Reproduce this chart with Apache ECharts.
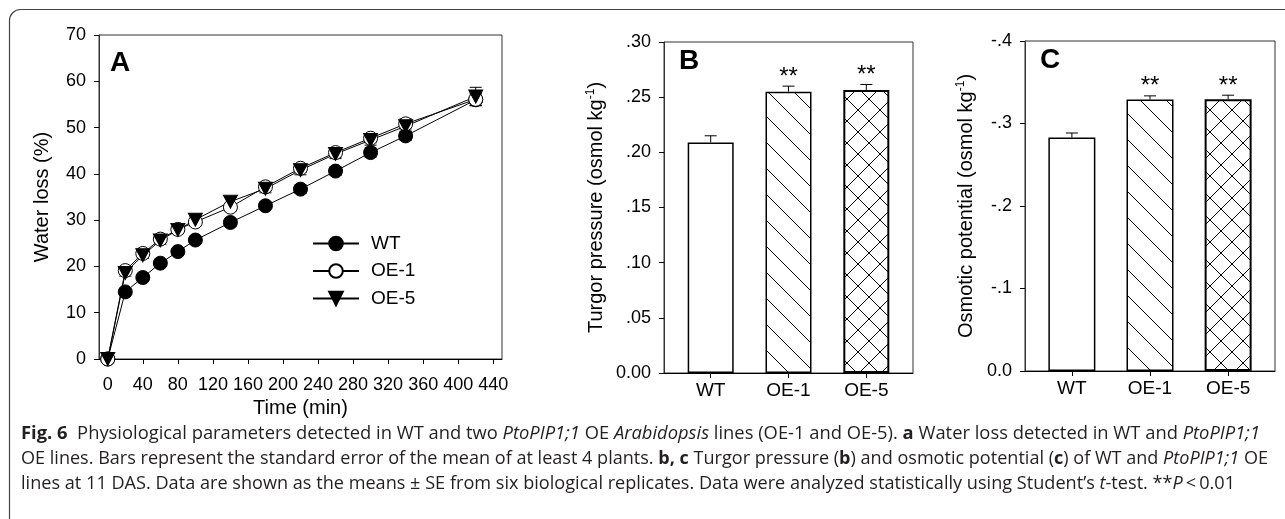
<!DOCTYPE html>
<html><head><meta charset="utf-8">
<script src="https://cdn.jsdelivr.net/npm/echarts@6/dist/echarts.min.js"></script>
<style>html,body{margin:0;padding:0;background:#fff}#c{width:1285px;height:519px}</style>
</head><body><div id="c"></div>
<script>
// ---------- data ----------
const times = [0, 20, 40, 60, 80, 100, 140, 180, 220, 260, 300, 340, 420];
const wtLoss  = [0, 14.5, 17.6, 20.7, 23.2, 25.7, 29.5, 33.1, 36.7, 40.6, 44.6, 48.2, 56.0];
const oe1Loss = [0, 19.1, 22.8, 25.9, 28.0, 29.6, 32.8, 37.2, 41.2, 44.6, 47.7, 50.8, 56.1];
const oe5Loss = [0, 18.6, 22.4, 25.6, 27.9, 30.1, 34.0, 36.8, 40.8, 44.3, 47.3, 50.3, 56.7];
const wtSE  = [0, 0.6, 0.6, 0.7, 0.7, 0.7, 0.8, 0.8, 0.9, 0.9, 1.0, 1.0, 1.2];
const oe1SE = [0, 0.7, 0.7, 0.7, 0.8, 0.8, 0.8, 0.9, 0.9, 1.0, 1.0, 1.1, 1.3];
const oe5SE = [0, 0.7, 0.7, 0.8, 0.8, 0.8, 0.9, 0.9, 1.0, 1.0, 1.1, 1.1, 2.0];
const xTicksA = [0, 40, 80, 120, 160, 200, 240, 280, 320, 360, 400, 440];
const lineNames = ['WT', 'OE-1', 'OE-5'];

const barCats = ['WT', 'OE-1', 'OE-5'];
const turgor   = [0.209, 0.255, 0.2565];
const turgorSE = [0.006, 0.005, 0.005];
const osmotic   = [-0.283, -0.329, -0.3295];
const osmoticSE = [0.0055, 0.0045, 0.0048];
const sigMarks = ['', '**', '**'];

// ---------- helpers ----------
const FF = '"Liberation Sans", Arial, sans-serif';
function hatch(size, back, fwd) {
  const c = document.createElement('canvas');
  c.width = c.height = size;
  const g = c.getContext('2d');
  g.fillStyle = '#fff'; g.fillRect(0, 0, size, size);
  g.strokeStyle = '#000'; g.lineWidth = 1;
  g.beginPath();
  for (const k of [-size, 0, size]) {
    if (back) { g.moveTo(k, 0); g.lineTo(k + size, size); }
    if (fwd) { g.moveTo(k + size, 0); g.lineTo(k, size); }
  }
  g.stroke();
  return c;
}
const patBack = { image: hatch(26, true, false), repeat: 'repeat' };
const patCross = { image: hatch(22, true, true), repeat: 'repeat' };
const barFills = ['#fff', patBack, patCross];

function errRender(capW, both) {
  return function (params, api) {
    const x = api.value(0), y = api.value(1), e = api.value(2);
    const pt = api.coord([x, y + e]);
    const pb = api.coord([x, both ? y - e : y]);
    const st = { stroke: '#000', lineWidth: 1 };
    const ch = [
      { type: 'line', shape: { x1: pt[0], y1: pt[1], x2: pb[0], y2: pb[1] }, style: st },
      { type: 'line', shape: { x1: pt[0] - capW / 2, y1: pt[1], x2: pt[0] + capW / 2, y2: pt[1] }, style: st }
    ];
    if (both) ch.push({ type: 'line', shape: { x1: pb[0] - capW / 2, y1: pb[1], x2: pb[0] + capW / 2, y2: pb[1] }, style: st });
    return { type: 'group', children: ch };
  };
}
function starRender(params, api) {
  const x = api.value(0), y = api.value(1), e = api.value(2);
  const p = api.coord([x, y + e]);
  return { type: 'text', x: p[0], y: p[1] - 9,
    style: { text: sigMarks[params.dataIndex], font: '24px ' + FF, fill: '#000', align: 'center', verticalAlign: 'middle' } };
}
const zip = (a, b) => a.map((v, i) => [v, b[i]]);
const zip3 = (a, b, c) => a.map((v, i) => [v, b[i], c[i]]);
const idx = [0, 1, 2];

// ---------- axes ----------
const axLine = (c) => ({ show: true, onZero: false, lineStyle: { color: c, width: 1 } });
const tick = (cv) => { const t = { show: true, inside: false, length: 5, lineStyle: { color: '#000' } }; if (cv) t.customValues = cv; return t; };
const lab = (size, margin, extra) => Object.assign({ fontSize: size, fontFamily: FF, color: '#000', margin: margin }, extra || {});
const supRich = { sup: { fontSize: 12, fontFamily: FF, color: '#000', verticalAlign: 'top', padding: [0, 0, 10, 0] } };

const option = {
  animation: false,
  backgroundColor: '#fff',
  grid: [
    { left: 99, top: 35, width: 403, height: 324, show: true, borderColor: '#333', borderWidth: 1, outerBoundsMode: 'none' },
    { left: 664, top: 42, width: 249, height: 331, show: true, borderColor: '#333', borderWidth: 1, outerBoundsMode: 'none' },
    { left: 1025, top: 41, width: 250, height: 330, show: true, borderColor: '#333', borderWidth: 1, outerBoundsMode: 'none' }
  ],
  xAxis: [
    { type: 'value', gridIndex: 0, min: -10, max: 450, splitLine: { show: false },
      axisLine: axLine('#000'), axisTick: tick(xTicksA),
      axisLabel: lab(18, 17, { customValues: xTicksA }),
      name: 'Time (min)', nameLocation: 'middle', nameGap: 39,
      nameTextStyle: { fontSize: 20, fontFamily: FF, color: '#000' } },
    { type: 'value', gridIndex: 1, min: -0.6, max: 2.6, splitLine: { show: false },
      axisLine: axLine('#000'), axisTick: tick(idx),
      axisLabel: lab(19, 8, { customValues: idx, formatter: v => barCats[Math.round(v)] }) },
    { type: 'value', gridIndex: 2, min: -0.6, max: 2.6, splitLine: { show: false },
      axisLine: axLine('#000'), axisTick: tick(idx),
      axisLabel: lab(19, 8, { customValues: idx, formatter: v => barCats[Math.round(v)] }) }
  ],
  yAxis: [
    { type: 'value', gridIndex: 0, min: 0, max: 70, interval: 10, splitLine: { show: false },
      axisLine: axLine('#333'), axisTick: tick(), axisLabel: lab(18, 13),
      name: 'Water loss (%)', nameLocation: 'middle', nameGap: 47,
      nameTextStyle: { fontSize: 20, fontFamily: FF, color: '#000' } },
    { type: 'value', gridIndex: 1, min: 0, max: 0.30, interval: 0.05, splitLine: { show: false },
      axisLine: axLine('#333'), axisTick: tick(),
      axisLabel: lab(18, 13, { formatter: v => v < 1e-9 ? '0.00' : '.' + v.toFixed(2).split('.')[1] }),
      name: 'Turgor pressure (osmol kg{sup|-1})', nameLocation: 'middle', nameGap: 57,
      nameTextStyle: { fontSize: 20, fontFamily: FF, color: '#000', rich: supRich } },
    { type: 'value', gridIndex: 2, min: -0.4, max: 0, interval: 0.1, inverse: true, splitLine: { show: false },
      axisLine: axLine('#333'), axisTick: tick(),
      axisLabel: lab(18, 13, { formatter: v => Math.abs(v) < 1e-9 ? '0.0' : '-.' + Math.round(Math.abs(v) * 10) }),
      name: 'Osmotic potential (osmol kg{sup|-1})', nameLocation: 'middle', nameGap: 48,
      nameTextStyle: { fontSize: 20, fontFamily: FF, color: '#000', rich: supRich } }
  ],
  legend: {
    data: lineNames, orient: 'vertical', left: 307, top: 229,
    itemWidth: 46, itemHeight: 17, itemGap: 8.5,
    textStyle: { fontSize: 19, fontFamily: FF, color: '#000', padding: [0, 0, 0, 7] }
  },
  series: [
    { type: 'custom', xAxisIndex: 0, yAxisIndex: 0, renderItem: errRender(12, true), data: zip3(times, wtLoss, wtSE), z: 1, encode: { x: 0, y: 1 } },
    { type: 'custom', xAxisIndex: 0, yAxisIndex: 0, renderItem: errRender(12, true), data: zip3(times, oe1Loss, oe1SE), z: 1, encode: { x: 0, y: 1 } },
    { type: 'custom', xAxisIndex: 0, yAxisIndex: 0, renderItem: errRender(12, true), data: zip3(times, oe5Loss, oe5SE), z: 1, encode: { x: 0, y: 1 } },
    { type: 'line', name: lineNames[0], xAxisIndex: 0, yAxisIndex: 0, data: zip(times, wtLoss),
      symbol: 'circle', symbolSize: 14, showSymbol: true, z: 3,
      itemStyle: { color: '#000', borderColor: '#000', borderWidth: 1 }, lineStyle: { color: '#000', width: 1 } },
    { type: 'line', name: lineNames[1], xAxisIndex: 0, yAxisIndex: 0, data: zip(times, oe1Loss),
      symbol: 'circle', symbolSize: 14, showSymbol: true, z: 3,
      itemStyle: { color: '#fff', borderColor: '#000', borderWidth: 1 }, lineStyle: { color: '#000', width: 1 } },
    { type: 'line', name: lineNames[2], xAxisIndex: 0, yAxisIndex: 0, data: zip(times, oe5Loss),
      symbol: 'triangle', symbolRotate: 180, symbolSize: [14, 13], showSymbol: true, z: 3,
      itemStyle: { color: '#000', borderColor: '#000', borderWidth: 1 }, lineStyle: { color: '#000', width: 1 } },

    { type: 'custom', xAxisIndex: 1, yAxisIndex: 1, renderItem: errRender(12, false), data: zip3(idx, turgor, turgorSE), z: 1, encode: { x: 0, y: 1 } },
    { type: 'bar', name: 'turgor', xAxisIndex: 1, yAxisIndex: 1, barWidth: 46, z: 2,
      data: idx.map(i => ({ value: [i, turgor[i]], itemStyle: { color: barFills[i], borderColor: '#000', borderWidth: i === 2 ? 2 : 1.5 } })) },
    { type: 'custom', xAxisIndex: 1, yAxisIndex: 1, renderItem: starRender, data: zip3(idx, turgor, turgorSE), z: 3, encode: { x: 0, y: 1 } },

    { type: 'custom', xAxisIndex: 2, yAxisIndex: 2, renderItem: errRender(12, false), data: zip3(idx, osmotic, osmoticSE.map(v => -v)), z: 1, encode: { x: 0, y: 1 } },
    { type: 'bar', name: 'osmotic', xAxisIndex: 2, yAxisIndex: 2, barWidth: 47, z: 2,
      data: idx.map(i => ({ value: [i, osmotic[i]], itemStyle: { color: barFills[i], borderColor: '#000', borderWidth: i === 2 ? 2 : 1.5 } })) },
    { type: 'custom', xAxisIndex: 2, yAxisIndex: 2, renderItem: starRender, data: zip3(idx, osmotic, osmoticSE.map(v => -v)), z: 3, encode: { x: 0, y: 1 } }
  ],
  graphic: []
};

// ---------- panel letters & frame ----------
const letters = [['A', 110, 63], ['B', 679, 61], ['C', 1040, 60]];
letters.forEach(([t, x, y]) => option.graphic.push({ type: 'text', x: x, y: y,
  style: { text: t, font: 'bold 28px ' + FF, fill: '#000', align: 'left', verticalAlign: 'middle' } }));
option.graphic.push({ type: 'rect', shape: { x: 9.5, y: 9.5, width: 1300, height: 530, r: [11, 0, 0, 0] },
  style: { fill: 'none', stroke: '#444', lineWidth: 1.2 }, silent: true });

// ---------- caption ----------
const capLines = [
  [['b', 'Fig. 6'], ['n', '  Physiological parameters detected in WT and two '], ['i', 'PtoPIP1;1'], ['n', ' OE '], ['i', 'Arabidopsis'],
   ['n', ' lines (OE-1 and OE-5). '], ['b', 'a'], ['n', ' Water loss detected in WT and '], ['i', 'PtoPIP1;1']],
  [['n', 'OE lines. Bars represent the standard error of the mean of at least 4 plants. '], ['b', 'b, c'], ['n', ' Turgor pressure ('],
   ['b', 'b'], ['n', ') and osmotic potential ('], ['b', 'c'], ['n', ') of WT and '], ['i', 'PtoPIP1;1'], ['n', ' OE']],
  [['n', 'lines at 11 DAS. Data are shown as the means \u00b1 SE from six biological replicates. Data were analyzed statistically using Student\u2019s '],
   ['i', 't'], ['n', '-test. **'], ['i', 'P'], ['n', '\u2009<\u20090.01']]
];
const CF = '"Open Sans", "Noto Sans", sans-serif';
const CS = 17.5;
const fontOf = { n: `${CS}px ${CF}`, b: `bold ${CS}px ${CF}`, i: `italic ${CS}px ${CF}` };
const mctx = document.createElement('canvas').getContext('2d');
function measure(line) { return line.reduce((s, [k, t]) => { mctx.font = fontOf[k]; return s + mctx.measureText(t).width; }, 0); }
const capX = 21;
const capEnds = [1260, 1268, 1235];
const capY = [434, 459, 484];
const scales = capLines.map((l, i) => (capEnds[i] - capX) / measure(l));
const rich = {
  n: { fontSize: CS, fontFamily: CF, color: '#231f20' },
  b: { fontSize: CS, fontFamily: CF, fontWeight: 'bold', color: '#231f20' },
  i: { fontSize: CS, fontFamily: CF, fontStyle: 'italic', color: '#231f20' }
};
capLines.forEach((l, i) => {
  const txt = l.map(([k, t]) => `{${k}|${t}}`).join('');
  option.graphic.push({ type: 'text', x: capX, y: capY[i], scaleX: scales[i], scaleY: 1,
    style: { text: txt, rich: rich, fill: '#231f20', font: fontOf.n, align: 'left', verticalAlign: 'middle' } });
});

const chart = echarts.init(document.getElementById('c'), null, { renderer: 'canvas' });
chart.setOption(option);
</script>
</body></html>
